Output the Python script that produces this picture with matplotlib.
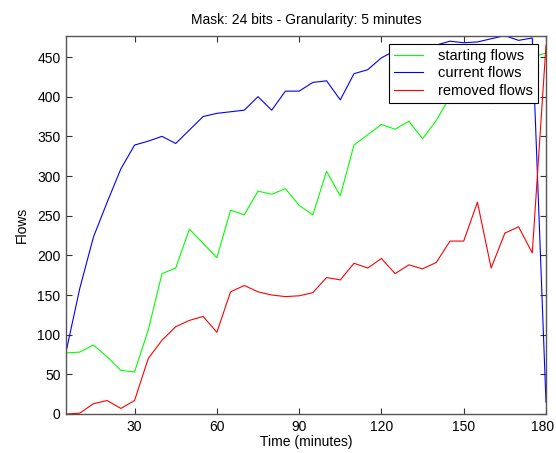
import matplotlib
matplotlib.use("Agg")
import matplotlib.pyplot as plt
import matplotlib.transforms as mtransforms
import numpy as np

plt.rcParams['font.family'] = ['Liberation Sans', 'DejaVu Sans']

time_min = list(range(5, 181, 5))
starting_flows = [77, 78, 87, 72, 55, 53, 106, 177, 184, 233, 215, 197, 257, 251,
                  281, 277, 284, 263, 251, 306, 275, 339, 352, 365, 359, 369,
                  347, 370, 400, 425, 430, 391, 425, 440, 450, 455]
current_flows = [78, 158, 223, 267, 309, 339, 344, 350, 341, 358, 375, 379, 381, 383,
                 400, 383, 407, 407, 418, 420, 396, 429, 434, 449, 458, 462,
                 455, 465, 470, 468, 469, 473, 477, 471, 474, 15]
removed_flows = [0, 1, 13, 17, 7, 17, 70, 93, 110, 118, 123, 103, 154, 162, 154,
                 150, 148, 149, 153, 172, 169, 190, 184, 196, 177, 188, 183, 191,
                 218, 218, 267, 184, 228, 236, 203, 465]

title = "Mask: 24 bits - Granularity: 5 minutes"
xlabel = "Time (minutes)"
ylabel = "Flows"
xticks = [30, 60, 90, 120, 150, 180]
yticks = list(range(0, 451, 50))

fig = plt.figure(figsize=(5.56, 4.53), dpi=100)
ax = fig.add_axes([0.1187, 0.0861, 0.8633, 0.8353])

ax.plot(time_min, starting_flows, color=(0, 1, 0), lw=0.8, label="starting flows")
ax.plot(time_min, current_flows, color=(0, 0, 1), lw=0.8, label="current flows")
ax.plot(time_min, removed_flows, color=(1, 0, 0), lw=0.8, label="removed flows")

ax.set_xlim(5, 180)
ax.set_ylim(0, 477)
ax.set_xticks(xticks)
ax.set_yticks(yticks)
ax.tick_params(direction='in', length=4, width=0.8, top=True, right=True,
               labelsize=10, pad=4, color='#333333')
for s in ax.spines.values():
    s.set_color('#555555')
    s.set_linewidth(1.0)

# nudge the last x tick label slightly left so it stays inside the figure
last = ax.get_xticklabels()[-1]
last.set_transform(last.get_transform() +
                   mtransforms.ScaledTranslation(-3 / 100, 0, fig.dpi_scale_trans))

ax.set_title(title, fontsize=10, pad=8)
ax.set_xlabel(xlabel, fontsize=10, labelpad=1)
ax.set_ylabel(ylabel, fontsize=10, labelpad=6)

leg = ax.legend(loc='upper right', fontsize=10.5, frameon=True, fancybox=False,
                framealpha=1.0, borderaxespad=0.55, handlelength=2.0,
                handletextpad=1.0, labelspacing=0.25, borderpad=0.35)
leg.get_frame().set_edgecolor('black')
leg.get_frame().set_linewidth(0.8)

fig.savefig("out.png", dpi=100)
